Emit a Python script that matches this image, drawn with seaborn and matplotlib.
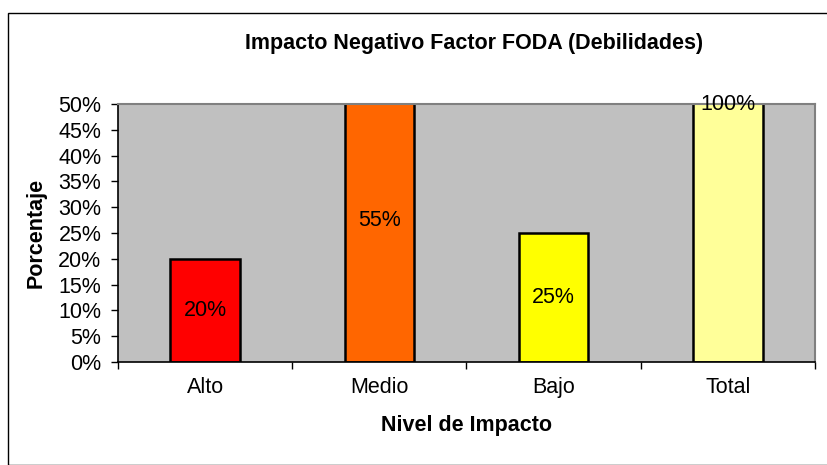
import matplotlib
matplotlib.use("Agg")
import matplotlib.pyplot as plt
import seaborn as sns
import pandas as pd
from matplotlib.patches import Rectangle
from matplotlib.ticker import FixedLocator, PercentFormatter

categories = ["Alto", "Medio", "Bajo", "Total"]
values = [0.20, 0.55, 0.25, 1.00]
value_labels = ["20%", "55%", "25%", "100%"]
colors = ["#FF0000", "#FF6600", "#FFFF00", "#FFFF99"]
yticks = [0, 0.05, 0.10, 0.15, 0.20, 0.25, 0.30, 0.35, 0.40, 0.45, 0.50]

sns.set_theme(style="white")
plt.rcParams['font.family'] = ['Liberation Sans', 'DejaVu Sans']
plt.rcParams['text.color'] = 'black'
plt.rcParams['axes.labelcolor'] = 'black'
plt.rcParams['xtick.color'] = 'black'
plt.rcParams['ytick.color'] = 'black'

FS = 15.5

df = pd.DataFrame({"Nivel": categories, "Valor": values})

fig = plt.figure(figsize=(8.28, 4.65), dpi=100)
ax = fig.add_axes([118/828, 1-362/465, (815-118)/828, (362-104)/465])
ax.set_facecolor("#C0C0C0")

sns.barplot(data=df, x="Nivel", y="Valor", hue="Nivel", palette=colors,
            order=categories, hue_order=categories, dodge=False, legend=False,
            width=0.4, edgecolor="black", linewidth=1.8, ax=ax, saturation=1)

ax.set_ylim(0, 0.5)
ax.set_xlim(-0.5, 3.5)
ax.yaxis.set_major_locator(FixedLocator(yticks))
ax.yaxis.set_major_formatter(PercentFormatter(1.0, decimals=0))
ax.tick_params(axis="y", which="major", length=5, width=1, color="black",
               labelcolor="black", labelsize=FS, pad=7, left=True, direction="out")

ax.set_xticks([-0.5, 0.5, 1.5, 2.5, 3.5])
ax.set_xticklabels([])
ax.set_xticks(range(len(categories)), minor=True)
ax.set_xticklabels(categories, minor=True)
ax.tick_params(axis="x", which="major", length=5, width=1, color="black", bottom=True, direction="out")
ax.tick_params(axis="x", which="minor", length=0, labelsize=FS, labelcolor="black", pad=22)
for lab in ax.get_xticklabels(minor=True):
    lab.set_verticalalignment("baseline")

for side in ["left", "bottom"]:
    ax.spines[side].set_color("black")
    ax.spines[side].set_linewidth(1.2)
for side in ["top", "right"]:
    ax.spines[side].set_visible(True)
    ax.spines[side].set_color("#808080")
    ax.spines[side].set_linewidth(1.5)

for i, (v, lab) in enumerate(zip(values, value_labels)):
    ax.text(i, v / 2, lab, ha="center", va="center", fontsize=FS,
            color="black", clip_on=False, zorder=5)

ax.set_xlabel("Nivel de Impacto", fontsize=FS, fontweight="bold", color="black")
ax.xaxis.set_label_coords(0.5, 1 - (425 - 104) / (362 - 104))
ax.xaxis.label.set_verticalalignment("center")
ax.set_ylabel("Porcentaje", fontsize=FS, fontweight="bold", labelpad=8, color="black")
fig.text(474/828, 1-44/465, "Impacto Negativo Factor FODA (Debilidades)",
         ha="center", va="center", fontsize=FS, fontweight="bold", color="black")

fig.patches.append(Rectangle((8/828, 0), 1, 1-13/465, transform=fig.transFigure,
                             fill=False, edgecolor="black", linewidth=1))

fig.savefig("out.png", dpi=100)
